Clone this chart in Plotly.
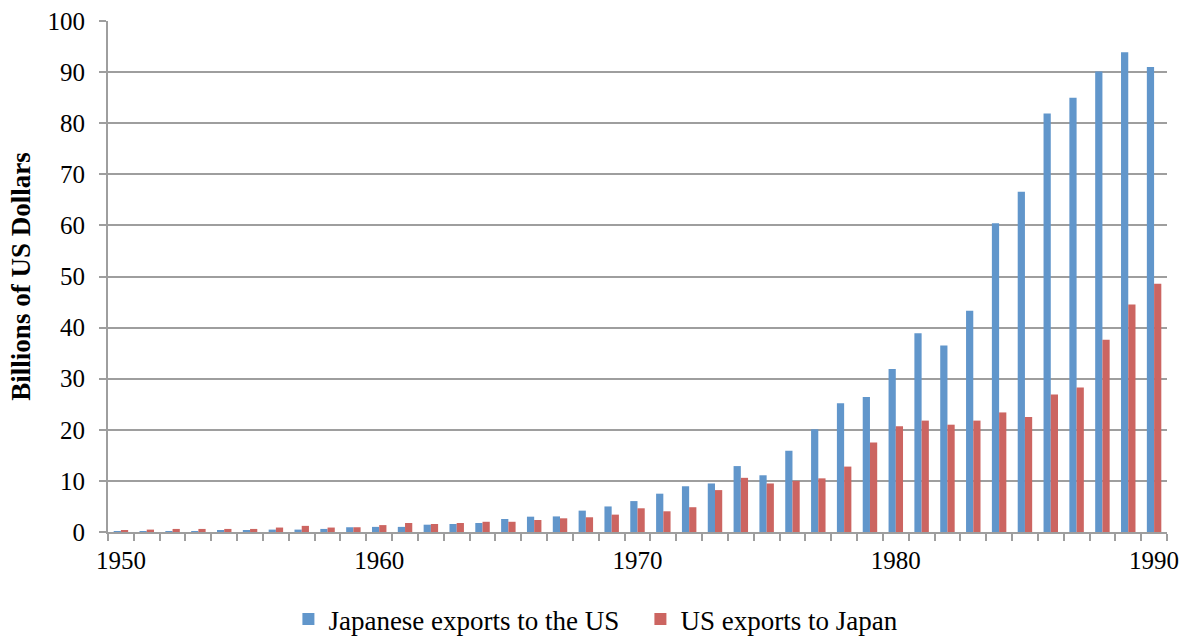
import plotly.graph_objects as go

years = list(range(1950, 1991))
japan_to_us = [0.13, 0.13, 0.15, 0.15, 0.2, 0.33, 0.47, 0.47, 0.6, 0.93,
               1.0, 1.0, 1.43, 1.57, 1.76, 2.55, 3.0, 3.05, 4.18, 5.0,
               6.05, 7.5, 8.95, 9.5, 12.9, 11.1, 15.9, 20.1, 25.2, 26.4,
               31.9, 38.9, 36.5, 43.3, 60.4, 66.6, 81.9, 85.0, 90.1, 93.9, 91.0]
us_to_japan = [0.33, 0.47, 0.6, 0.6, 0.6, 0.6, 0.87, 1.2, 0.87, 0.93,
               1.35, 1.76, 1.57, 1.76, 2.0, 2.0, 2.35, 2.68, 2.88, 3.4,
               4.64, 4.05, 4.85, 8.2, 10.6, 9.5, 10.0, 10.5, 12.8, 17.5,
               20.7, 21.8, 21.0, 21.8, 23.4, 22.5, 26.9, 28.3, 37.6, 44.5, 48.6]
x_labels = [1950, 1960, 1970, 1980, 1990]
y_ticks = list(range(0, 101, 10))

BLUE = "#6196CB"
RED = "#CC6561"
GRID = "#9E9E9E"
FONT = "Liberation Serif, Times New Roman, serif"

fig = go.Figure()
fig.add_trace(go.Bar(x=years, y=japan_to_us, name="Japanese exports to the US",
                     marker=dict(color=BLUE, line=dict(width=0))))
fig.add_trace(go.Bar(x=years, y=us_to_japan, name="US exports to Japan",
                     marker=dict(color=RED, line=dict(width=0))))

fig.update_layout(
    width=1182, height=640,
    margin=dict(l=108, r=15, t=21, b=108, autoexpand=False),
    paper_bgcolor="white", plot_bgcolor="white",
    barmode="group", bargap=0.44, bargroupgap=0,
    font=dict(family=FONT, size=25, color="black"),
    legend=dict(orientation="h", xref="container", x=0.244, xanchor="left",
                yref="container", y=0.032, yanchor="middle",
                font=dict(size=27), itemwidth=30, entrywidth=307,
                traceorder="normal"),
    xaxis=dict(
        range=[1949.5, 1990.5], tickmode="array", tickvals=x_labels,
        ticktext=[str(v) for v in x_labels], ticks="", showgrid=False,
        showline=True, linecolor=GRID, linewidth=2, zeroline=False,
        tickfont=dict(size=25), ticklabelstandoff=5, ticklabeloverflow="allow",
        minor=dict(ticks="outside", tick0=1949.5, dtick=1, ticklen=7,
                   tickcolor=GRID, tickwidth=2, showgrid=False),
    ),
    yaxis=dict(
        range=[0, 100], tickmode="array", tickvals=y_ticks, ticks="outside",
        ticklen=7, tickcolor=GRID, tickwidth=2, showgrid=True, gridcolor=GRID,
        gridwidth=2, showline=True, linecolor=GRID, linewidth=2, zeroline=False,
        tickfont=dict(size=25), ticklabelstandoff=9,
        title=dict(text="<b>Billions of US Dollars</b>", font=dict(size=27), standoff=9),
    ),
)

fig.write_html("out.html", config={"displayModeBar": False},
               post_script="document.body.style.margin='0';document.body.style.overflow='hidden';")
